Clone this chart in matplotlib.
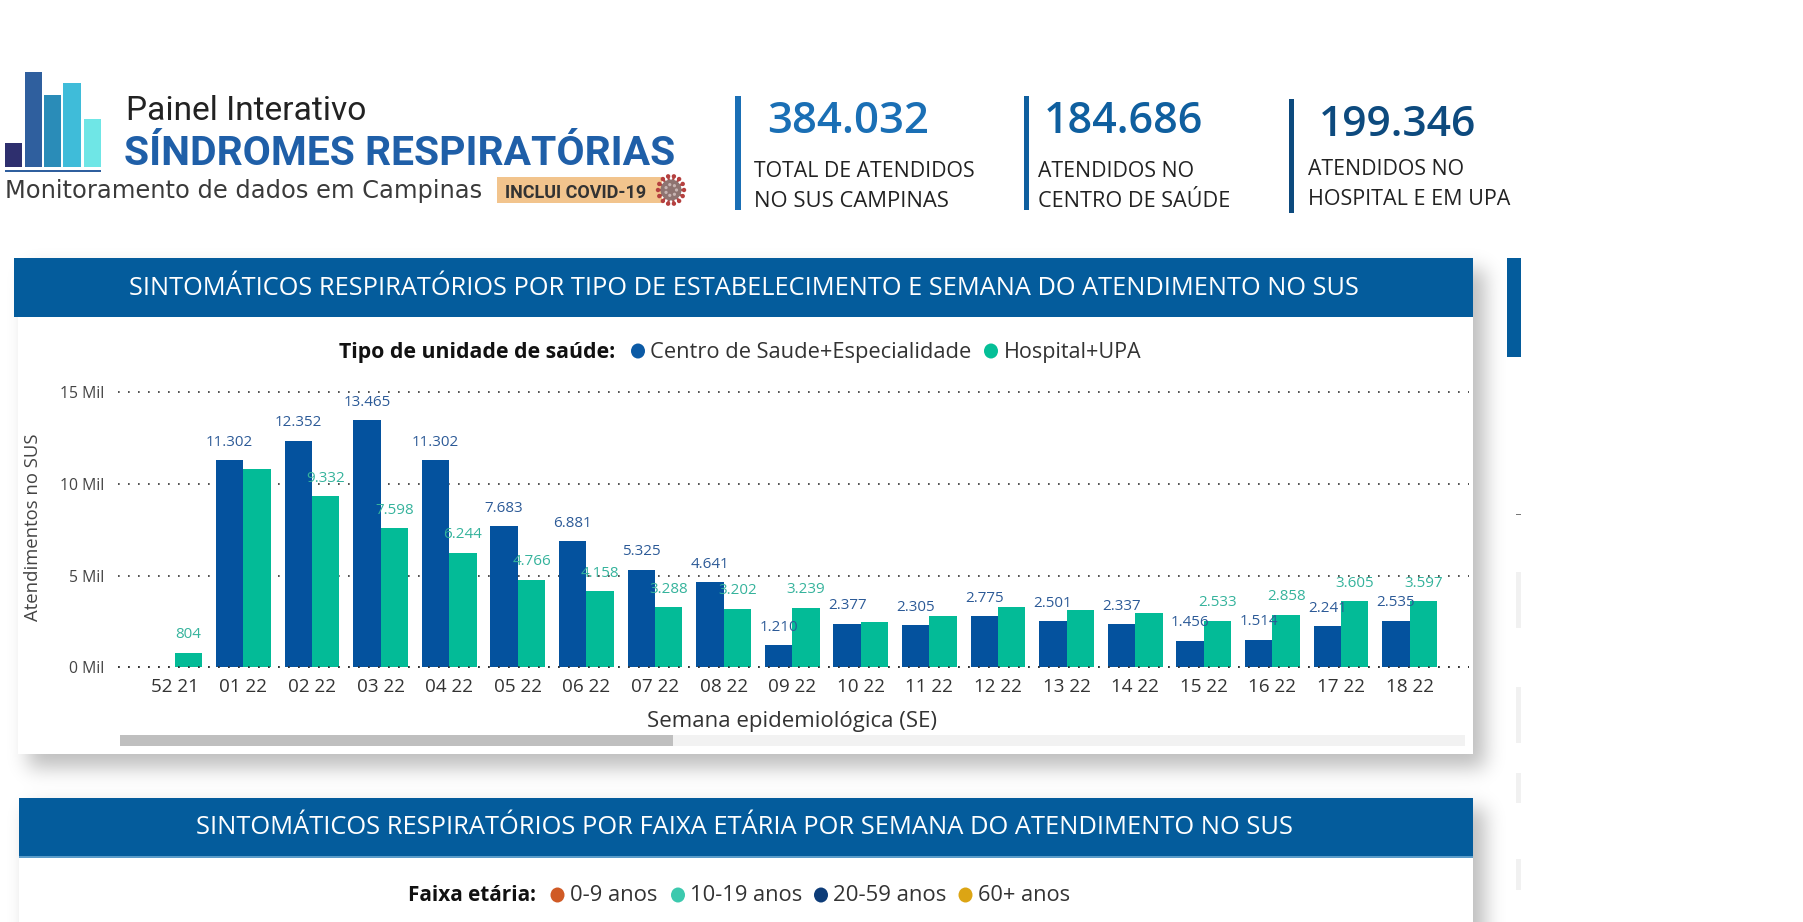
import numpy as np
import matplotlib
matplotlib.use("Agg")
import matplotlib.pyplot as plt
from matplotlib.patches import Rectangle, Ellipse, Circle

# ---- data ----
weeks = ["52 21", "01 22", "02 22", "03 22", "04 22", "05 22", "06 22", "07 22", "08 22", "09 22",
         "10 22", "11 22", "12 22", "13 22", "14 22", "15 22", "16 22", "17 22", "18 22"]
centro = [0, 11302, 12352, 13465, 11302, 7683, 6881, 5325, 4641, 1210,
          2377, 2305, 2775, 2501, 2337, 1456, 1514, 2241, 2535]
hospital = [804, 10840, 9332, 7598, 6244, 4766, 4158, 3288, 3202, 3239,
            2490, 2800, 3270, 3130, 2950, 2533, 2858, 3605, 3597]
centro_labels = [None, "11.302", "12.352", "13.465", "11.302", "7.683", "6.881", "5.325", "4.641", "1.210",
                 "2.377", "2.305", "2.775", "2.501", "2.337", "1.456", "1.514", "2.241", "2.535"]
hospital_labels = ["804", None, "9.332", "7.598", "6.244", "4.766", "4.158", "3.288", "3.202", "3.239",
                   None, None, None, None, None, "2.533", "2.858", "3.605", "3.597"]
y_ticks = [0, 5000, 10000, 15000]
y_tick_labels = ["0 Mil", "5 Mil", "10 Mil", "15 Mil"]
logo_heights = [24, 95, 72, 84, 48]
kpi_values = ["384.032", "184.686", "199.346"]

BLUE = "#04529e"
GREEN = "#03bb97"
HEAD = "#045c9c"
FONT = "Open Sans"

W, H = 1803, 922
fig = plt.figure(figsize=(W / 100, H / 100), dpi=100, facecolor="white")
ov = fig.add_axes([0, 0, 1, 1], zorder=0)
ov.set_xlim(0, W)
ov.set_ylim(H, 0)
ov.axis("off")
renderer = fig.canvas.get_renderer()


def fit(x, y, s, w, ha="left", va="baseline", **kw):
    kw.setdefault("family", FONT)
    t = ov.text(x, y, s, fontsize=20, ha=ha, va=va, **kw)
    t.set_fontsize(20 * w / t.get_window_extent(renderer).width)
    return t


def rect(x0, y0, x1, y1, color, z=2, **kw):
    ov.add_patch(Rectangle((x0, y0), x1 - x0, y1 - y0, facecolor=color, edgecolor="none", zorder=z, **kw))


# ---- card shadows ----
mask = np.zeros((H, W))
mask[270:768, 28:1485] = 1
mask[808:922, 28:1485] = 1
kx = np.exp(-0.5 * (np.arange(-30, 31) / 10.0) ** 2)
kx /= kx.sum()
padded = np.pad(mask, 30, mode="edge")
blur = np.apply_along_axis(lambda r: np.convolve(r, kx, mode="same"), 0, padded)
blur = np.apply_along_axis(lambda r: np.convolve(r, kx, mode="same"), 1, blur)[30:-30, 30:-30]
rgba = np.zeros((H, W, 4))
rgba[..., 3] = blur * 0.26
ov.imshow(rgba, extent=(0, W, H, 0), aspect="auto", zorder=0, interpolation="bilinear")
ov.set_xlim(0, W)
ov.set_ylim(H, 0)

# ---- cards and headers ----
rect(18, 317, 1473, 754, "white", 1)
rect(14, 258, 1473, 317, HEAD)
rect(19, 857, 1473, 922, "white", 1)
rect(19, 798, 1473, 857, HEAD)
rect(19, 856, 1473, 857.5, "#5b9cc9", 3)
fit(744, 295, "SINTOMÁTICOS RESPIRATÓRIOS POR TIPO DE ESTABELECIMENTO E SEMANA DO ATENDIMENTO NO SUS",
    1233, ha="center", color="white", zorder=4)
fit(745, 833.5, "SINTOMÁTICOS RESPIRATÓRIOS POR FAIXA ETÁRIA POR SEMANA DO ATENDIMENTO NO SUS",
    1100, ha="center", color="white", zorder=4)

# ---- right column remnants ----
rect(1507, 258, 1521, 357, HEAD)
for y0, y1 in [(572, 628), (687, 743), (773, 803), (859, 890)]:
    rect(1515.5, y0, 1520.5, y1, "#f1f1f1")
rect(1516, 513.5, 1521, 514.5, "#777777")

# ---- logo ----
logo_x = [(5, 22), (24.5, 42), (44, 61), (63, 81), (84, 101)]
logo_c = ["#2e2f6e", "#2f5f9e", "#2a8cb8", "#3fbcd9", "#6fe6e6"]
for (x0, x1), h, c in zip(logo_x, logo_heights, logo_c):
    rect(x0, 167 - h, x1, 167, c)
rect(5, 170, 101, 172, "#2f5f9e")
fit(125.5, 120, "Painel Interativo", 240, family="Roboto", color="#222222")
fit(124, 165, "SÍNDROMES RESPIRATÓRIAS", 550, family="Roboto", weight="bold", color="#1f5fa8")
fit(5, 197.5, "Monitoramento de dados em Campinas", 475, family="DejaVu Sans", color="#3a3a3a")
rect(497, 177, 662, 203, "#f2c48d")
fit(505, 198, "INCLUI COVID-19", 142, family="Roboto", weight="bold", color="#333333", zorder=4)
# virus emblem
for a in np.linspace(0, 2 * np.pi, 14, endpoint=False):
    cx, cy = 671 + 13 * np.cos(a), 190 + 14 * np.sin(a)
    ov.plot([671, cx], [190, cy], color="#b04a48", lw=1.6, zorder=4, solid_capstyle="round")
    ov.add_patch(Circle((cx, cy), 2.2, facecolor="#b5403f", edgecolor="none", zorder=5))
ov.add_patch(Circle((671, 190), 10.5, facecolor="#8e7471", edgecolor="none", zorder=5))
for a in np.linspace(0, 2 * np.pi, 7, endpoint=False):
    ov.add_patch(Circle((671 + 5.5 * np.cos(a), 190 + 5.5 * np.sin(a)), 1.6, facecolor="#c7b4b2", edgecolor="none", zorder=6))

# ---- KPI blocks ----
rect(734.5, 96, 741, 210, "#1a6fb5")
rect(1024, 96, 1029, 210, "#0f5f9f")
rect(1289, 99, 1294, 213, "#0d4a7e")
fit(767, 132.7, kpi_values[0], 162, color="#1a6fb5", weight="semibold")
fit(1044, 132.7, kpi_values[1], 159, color="#0f5f9f", weight="semibold")
fit(1319, 136, kpi_values[2], 157, color="#0d4a7e", weight="semibold")
TXT = "#222222"
fit(754, 176.7, "TOTAL DE ATENDIDOS", 221, color=TXT)
fit(754, 206.7, "NO SUS CAMPINAS", 195, color=TXT)
fit(1038, 176.7, "ATENDIDOS NO", 156, color=TXT)
fit(1038, 206.7, "CENTRO DE SAÚDE", 192, color=TXT)
fit(1308, 175, "ATENDIDOS NO", 156, color=TXT)
fit(1308, 205, "HOSPITAL E EM UPA", 202, color=TXT)

# ---- legends ----
def bullet(x, y, c):
    ov.add_patch(Ellipse((x, y), 14, 15, facecolor=c, edgecolor="none", zorder=4))

fit(339, 358, "Tipo de unidade de saúde:", 276, weight="bold", color="#111111", zorder=4)
bullet(638, 351, "#0b5aa5")
fit(650.5, 358, "Centro de Saude+Especialidade", 320, color="#333333", zorder=4)
bullet(991, 351, "#05bf97")
fit(1004, 358, "Hospital+UPA", 137, color="#333333", zorder=4)

fit(408, 901, "Faixa etária:", 128, weight="bold", color="#111111", zorder=4)
bullet(557.5, 895, "#d05a25")
fit(570, 901, "0-9 anos", 87, color="#333333", zorder=4)
bullet(678, 895, "#3cc9ae")
fit(690, 901, "10-19 anos", 112, color="#333333", zorder=4)
bullet(821, 895, "#0d3c78")
fit(833, 901, "20-59 anos", 113, color="#333333", zorder=4)
bullet(965.5, 895, "#dca514")
fit(978, 901, "60+ anos", 92, color="#333333", zorder=4)

# ---- scrollbar ----
rect(120, 735, 1465, 746, "#f2f2f2", 2)
rect(120, 735, 673, 746, "#bfbfbf", 3)

# ---- chart ----
L, R, T, B = 118, 1469, 392.3, 667.3
ax = fig.add_axes([L / W, 1 - B / H, (R - L) / W, (B - T) / H], zorder=2)
ax.patch.set_alpha(0)
x = np.arange(len(weeks))
bw = 0.4
b1 = ax.bar(x - bw / 2, centro, bw, color=BLUE, zorder=2)
b2 = ax.bar(x + bw / 2, hospital, bw, color=GREEN, zorder=2)
ax.set_xlim((L - 174.8) / 68.6, (R - 174.8) / 68.6)
ax.set_ylim(0, 15000)
ax.set_yticks(y_ticks, y_tick_labels, family=FONT, fontsize=11.3, color="#444444")
ax.set_xticks(x, weeks, family=FONT, fontsize=13.6, color="#333333")
ax.tick_params(axis="both", length=0)
ax.tick_params(axis="y", pad=10)
ax.tick_params(axis="x", pad=8)
for s in ax.spines.values():
    s.set_visible(False)
ax.set_axisbelow(True)
ax.grid(axis="y", color="#333333", lw=1.2, ls=(0, (1, 5)), clip_on=False)
ax.axhline(0, color="#333333", lw=1.2, ls=(0, (1, 5)), zorder=3, clip_on=False)
for g in ax.get_ygridlines():
    g.set_clip_on(False)
for xs, vals, labs, col in [(x - bw / 2, centro, centro_labels, "#2c5a97"),
                            (x + bw / 2, hospital, hospital_labels, "#35b39c")]:
    for xi, v, lb in zip(xs, vals, labs):
        if lb:
            ax.annotate(lb, (xi, v), xytext=(0, 18 * 0.72), textcoords="offset points",
                        ha="center", va="center", family=FONT, fontsize=10.9, color=col, zorder=5)
ax.set_ylabel("Atendimentos no SUS", family=FONT, fontsize=13.3, color="#444444", va="center")
ax.yaxis.set_label_coords((33 - L) / (R - L), (B - 527) / (B - T))
ax.set_xlabel("Semana epidemiológica (SE)", family=FONT, fontsize=16, color="#333333")
ax.xaxis.set_label_coords((792 - L) / (R - L), -(721 - B) / (B - T))
ax.xaxis.label.set_va("center")

fig.savefig("out.png", dpi=100, facecolor="white")
